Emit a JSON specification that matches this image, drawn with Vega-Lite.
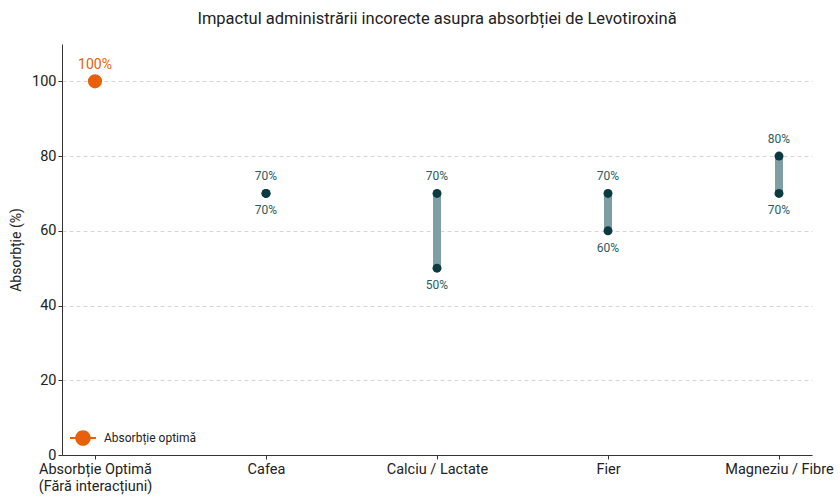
{
  "$schema": "https://vega.github.io/schema/vega-lite/v6.json",
  "autosize": "none",
  "width": 750,
  "height": 411,
  "padding": {"left": 62, "top": 44, "right": 28, "bottom": 47},
  "background": "white",
  "title": {
    "text": "Impactul administrării incorecte asupra absorbției de Levotiroxină",
    "fontSize": 16.5,
    "fontWeight": "normal",
    "color": "#222222",
    "offset": 17,
    "anchor": "middle"
  },
  "data": {
    "values": [
      {"cat": "Absorbție Optimă (Fără interacțiuni)", "kind": "optim", "min": 100, "max": 100, "series": "Absorbție optimă"},
      {"cat": "Cafea", "kind": "range", "min": 70, "max": 70},
      {"cat": "Calciu / Lactate", "kind": "range", "min": 50, "max": 70},
      {"cat": "Fier", "kind": "range", "min": 60, "max": 70},
      {"cat": "Magneziu / Fibre", "kind": "range", "min": 70, "max": 80}
    ]
  },
  "encoding": {
    "x": {
      "field": "cat",
      "type": "nominal",
      "sort": ["Absorbție Optimă (Fără interacțiuni)", "Cafea", "Calciu / Lactate", "Fier", "Magneziu / Fibre"],
      "scale": {"type": "point", "padding": 0.193},
      "axis": {
        "title": null,
        "labelAngle": 0,
        "labelFontSize": 14.5,
        "labelColor": "#222222",
        "labelPadding": 3,
        "labelLineHeight": 17,
        "tickSize": 4,
        "tickColor": "#333333",
        "domainColor": "#333333",
        "grid": false,
        "labelExpr": "datum.label == 'Absorbție Optimă (Fără interacțiuni)' ? ['Absorbție Optimă', '(Fără interacțiuni)'] : datum.label"
      }
    }
  },
  "layer": [
    {
      "transform": [{"filter": "datum.kind == 'range'"}],
      "mark": {"type": "rule", "strokeWidth": 8, "color": "#7F9EA3", "strokeCap": "butt"},
      "encoding": {
        "y": {
          "field": "min",
          "type": "quantitative",
          "scale": {"domain": [0, 110], "nice": false},
          "axis": {
            "title": "Absorbție (%)",
            "titleFontSize": 14,
            "titleFontWeight": "normal",
            "titleColor": "#222222",
            "titlePadding": 8,
            "values": [0, 20, 40, 60, 80, 100],
            "labelFontSize": 14.5,
            "labelColor": "#222222",
            "tickSize": 4,
            "tickColor": "#333333",
            "domainColor": "#333333",
            "grid": true,
            "gridColor": "#cccccc",
            "gridDash": [4, 3],
            "gridWidth": 0.8
          }
        },
        "y2": {"field": "max"}
      }
    },
    {
      "transform": [{"filter": "datum.kind == 'range'"}],
      "mark": {"type": "point", "filled": true, "size": 80, "color": "#0B3A42", "opacity": 1},
      "encoding": {"y": {"field": "min", "type": "quantitative"}}
    },
    {
      "transform": [{"filter": "datum.kind == 'range'"}],
      "mark": {"type": "point", "filled": true, "size": 80, "color": "#0B3A42", "opacity": 1},
      "encoding": {"y": {"field": "max", "type": "quantitative"}}
    },
    {
      "transform": [{"filter": "datum.kind == 'range'"}, {"calculate": "datum.max + '%'", "as": "lab"}],
      "mark": {"type": "text", "dy": -17, "fontSize": 12, "color": "#2C5A62"},
      "encoding": {"y": {"field": "max", "type": "quantitative"}, "text": {"field": "lab"}}
    },
    {
      "transform": [{"filter": "datum.kind == 'range'"}, {"calculate": "datum.min + '%'", "as": "lab"}],
      "mark": {"type": "text", "dy": 17, "fontSize": 12, "color": "#2C5A62"},
      "encoding": {"y": {"field": "min", "type": "quantitative"}, "text": {"field": "lab"}}
    },
    {
      "transform": [{"filter": "datum.kind == 'optim'"}],
      "mark": {"type": "point", "filled": true, "size": 200, "opacity": 1},
      "encoding": {
        "y": {"field": "max", "type": "quantitative"},
        "color": {
          "field": "series",
          "type": "nominal",
          "scale": {"range": ["#E8610A"]},
          "legend": {
            "title": null,
            "orient": "none",
            "legendX": 8,
            "legendY": 381,
            "padding": 0,
            "symbolType": "M-1,-0.08H1V0.08H-1Z M0.6,0A0.6,0.6 0 1 1 -0.6,0A0.6,0.6 0 1 1 0.6,0Z",
            "symbolSize": 676,
            "symbolStrokeWidth": 0,
            "symbolFillColor": "#E8610A",
            "symbolOpacity": 1,
            "labelFontSize": 12,
            "labelColor": "#222222",
            "labelOffset": 8
          }
        }
      }
    },
    {
      "transform": [{"filter": "datum.kind == 'optim'"}, {"calculate": "datum.max + '%'", "as": "lab"}],
      "mark": {"type": "text", "dy": -16, "fontSize": 14, "color": "#E8610A"},
      "encoding": {"y": {"field": "max", "type": "quantitative"}, "text": {"field": "lab"}}
    }
  ],
  "config": {
    "font": "Roboto",
    "view": {"stroke": null},
    "axis": {"labelFont": "Roboto", "titleFont": "Roboto"}
  }
}
